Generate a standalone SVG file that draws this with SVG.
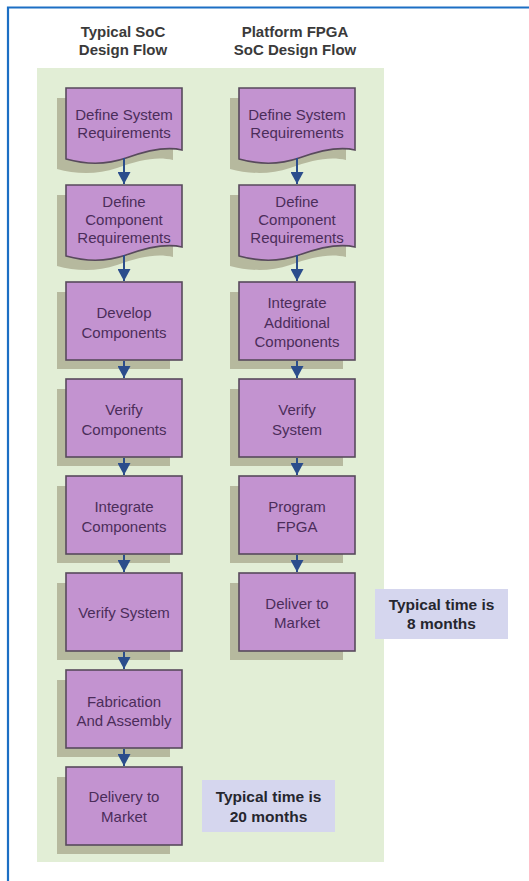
<svg xmlns="http://www.w3.org/2000/svg" width="529" height="881" viewBox="0 0 529 881">
<defs>
<style>
.frame{fill:none;stroke:#1c6fc4;stroke-width:2.2}
.bg{fill:#e2eed6}
.shadow{fill:#b6b99e}
.box{fill:#c393d0;stroke:#584a5c;stroke-width:1.6}
.lbl{font-family:"Liberation Sans",Arial,sans-serif;font-size:15px;fill:#4b2d5a;text-anchor:middle}
.hdr{font-family:"Liberation Sans",Arial,sans-serif;font-size:15px;font-weight:bold;fill:#3a3a3a;text-anchor:middle}
.tbox{fill:#d5d6ee}
.ttxt{font-family:"Liberation Sans",Arial,sans-serif;font-size:15.5px;font-weight:bold;fill:#26262e;text-anchor:middle}
.conn{stroke:#2b4d8c;stroke-width:2;fill:none}
</style>
<path id="doc" d="M0,0 H116 V62 C100,58 82,62 60,70 C40,77 18,76 0,71 Z"/>
<marker id="tri" markerUnits="userSpaceOnUse" markerWidth="13" markerHeight="13" refX="12" refY="6.5" orient="auto" viewBox="0 0 13 13">
<path d="M0,0 L12,6.5 L0,13 Z" fill="#2b4d8c"/>
</marker>
</defs>

<rect width="529" height="881" fill="#ffffff"/>
<path class="frame" d="M8,881 V7.5 H529"/>
<rect class="bg" x="37" y="68" width="347" height="794"/>

<g id="headers">
<text class="hdr" x="123" y="37">Typical SoC</text>
<text class="hdr" x="123" y="55">Design Flow</text>
<text class="hdr" x="295" y="37">Platform FPGA</text>
<text class="hdr" x="295" y="55">SoC Design Flow</text>
</g>

<g id="l1">
<use href="#doc" class="shadow" transform="translate(57,98)"/>
<use href="#doc" class="box" transform="translate(66,88)"/>
<text class="lbl" x="124" y="120">Define System</text>
<text class="lbl" x="124" y="138">Requirements</text>
</g>
<g id="l2">
<use href="#doc" class="shadow" transform="translate(57,195)"/>
<use href="#doc" class="box" transform="translate(66,185)"/>
<text class="lbl" x="124" y="207">Define</text>
<text class="lbl" x="124" y="225">Component</text>
<text class="lbl" x="124" y="243">Requirements</text>
</g>
<g id="l3">
<rect class="shadow" x="57" y="292" width="113" height="77"/>
<rect class="box" x="66" y="282" width="116" height="78"/>
<text class="lbl" x="124" y="318">Develop</text>
<text class="lbl" x="124" y="338">Components</text>
</g>
<g id="l4">
<rect class="shadow" x="57" y="389" width="113" height="77"/>
<rect class="box" x="66" y="379" width="116" height="78"/>
<text class="lbl" x="124" y="415">Verify</text>
<text class="lbl" x="124" y="435">Components</text>
</g>
<g id="l5">
<rect class="shadow" x="57" y="486" width="113" height="77"/>
<rect class="box" x="66" y="476" width="116" height="78"/>
<text class="lbl" x="124" y="512">Integrate</text>
<text class="lbl" x="124" y="532">Components</text>
</g>
<g id="l6">
<rect class="shadow" x="57" y="583" width="113" height="77"/>
<rect class="box" x="66" y="573" width="116" height="78"/>
<text class="lbl" x="124" y="618">Verify System</text>
</g>
<g id="l7">
<rect class="shadow" x="57" y="680" width="113" height="77"/>
<rect class="box" x="66" y="670" width="116" height="78"/>
<text class="lbl" x="124" y="707">Fabrication</text>
<text class="lbl" x="124" y="726">And Assembly</text>
</g>
<g id="l8">
<rect class="shadow" x="57" y="777" width="113" height="77"/>
<rect class="box" x="66" y="767" width="116" height="78"/>
<text class="lbl" x="124" y="802">Delivery to</text>
<text class="lbl" x="124" y="822">Market</text>
</g>

<g id="r1">
<use href="#doc" class="shadow" transform="translate(230,98)"/>
<use href="#doc" class="box" transform="translate(239,88)"/>
<text class="lbl" x="297" y="120">Define System</text>
<text class="lbl" x="297" y="138">Requirements</text>
</g>
<g id="r2">
<use href="#doc" class="shadow" transform="translate(230,195)"/>
<use href="#doc" class="box" transform="translate(239,185)"/>
<text class="lbl" x="297" y="207">Define</text>
<text class="lbl" x="297" y="225">Component</text>
<text class="lbl" x="297" y="243">Requirements</text>
</g>
<g id="r3">
<rect class="shadow" x="230" y="292" width="113" height="77"/>
<rect class="box" x="239" y="282" width="116" height="78"/>
<text class="lbl" x="297" y="308">Integrate</text>
<text class="lbl" x="297" y="328">Additional</text>
<text class="lbl" x="297" y="347">Components</text>
</g>
<g id="r4">
<rect class="shadow" x="230" y="389" width="113" height="77"/>
<rect class="box" x="239" y="379" width="116" height="78"/>
<text class="lbl" x="297" y="415">Verify</text>
<text class="lbl" x="297" y="435">System</text>
</g>
<g id="r5">
<rect class="shadow" x="230" y="486" width="113" height="77"/>
<rect class="box" x="239" y="476" width="116" height="78"/>
<text class="lbl" x="297" y="512">Program</text>
<text class="lbl" x="297" y="532">FPGA</text>
</g>
<g id="r6">
<rect class="shadow" x="230" y="583" width="113" height="77"/>
<rect class="box" x="239" y="573" width="116" height="78"/>
<text class="lbl" x="297" y="609">Deliver to</text>
<text class="lbl" x="297" y="628">Market</text>
</g>

<g id="connectors">
<line class="conn" x1="124" y1="158" x2="124" y2="184" marker-end="url(#tri)"/>
<line class="conn" x1="124" y1="255" x2="124" y2="281" marker-end="url(#tri)"/>
<line class="conn" x1="124" y1="361" x2="124" y2="378" marker-end="url(#tri)"/>
<line class="conn" x1="124" y1="458" x2="124" y2="475" marker-end="url(#tri)"/>
<line class="conn" x1="124" y1="555" x2="124" y2="572" marker-end="url(#tri)"/>
<line class="conn" x1="124" y1="652" x2="124" y2="669" marker-end="url(#tri)"/>
<line class="conn" x1="124" y1="749" x2="124" y2="766" marker-end="url(#tri)"/>
<line class="conn" x1="297" y1="158" x2="297" y2="184" marker-end="url(#tri)"/>
<line class="conn" x1="297" y1="255" x2="297" y2="281" marker-end="url(#tri)"/>
<line class="conn" x1="297" y1="361" x2="297" y2="378" marker-end="url(#tri)"/>
<line class="conn" x1="297" y1="458" x2="297" y2="475" marker-end="url(#tri)"/>
<line class="conn" x1="297" y1="555" x2="297" y2="572" marker-end="url(#tri)"/>
</g>

<g id="time8">
<rect class="tbox" x="375" y="589" width="133" height="50"/>
<text class="ttxt" x="441.5" y="610">Typical time is</text>
<text class="ttxt" x="441.5" y="629">8 months</text>
</g>
<g id="time20">
<rect class="tbox" x="202" y="780" width="133" height="52"/>
<text class="ttxt" x="268.5" y="802">Typical time is</text>
<text class="ttxt" x="268.5" y="822">20 months</text>
</g>
</svg>
